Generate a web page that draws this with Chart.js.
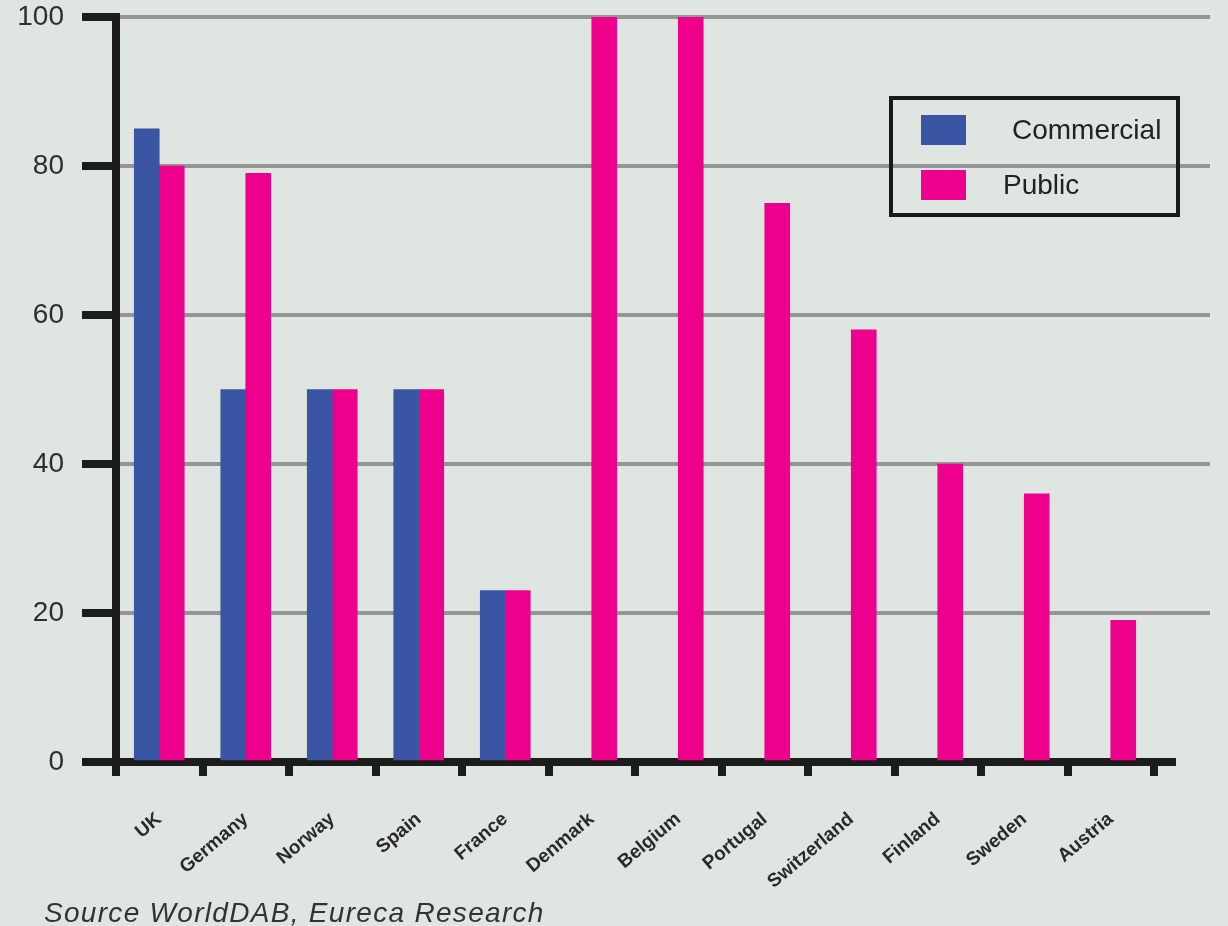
<!DOCTYPE html>
<html>
<head>
<meta charset="utf-8">
<script src="https://cdn.jsdelivr.net/npm/chart.js@4/dist/chart.umd.min.js"></script>
<style>
  html, body { margin: 0; padding: 0; background: #dfe5e1; }
  #wrap { position: relative; width: 1228px; height: 926px; }
  #legend {
    position: absolute; left: 889px; top: 96px; width: 291px; height: 121px;
    box-sizing: border-box; border: 4px solid #1a1a1a;
    font-family: "Liberation Sans", Arial, sans-serif; font-size: 28px; color: #222;
  }
  .item { position: absolute; left: 28px; height: 30px; display: flex; align-items: center; }
  .swatch { width: 45px; height: 30px; flex: none; }
  #source {
    position: absolute; left: 44px; top: 897px;
    font-family: "Liberation Sans", Arial, sans-serif; font-style: italic;
    font-size: 28px; letter-spacing: 1.3px; color: #333;
  }
</style>
</head>
<body>
<div id="wrap">
  <canvas id="dabChart" width="1228" height="926"></canvas>
  <div id="legend"></div>
  <div id="source">Source WorldDAB, Eureca Research</div>
</div>
<script>
// Chart data
const countries = ['UK', 'Germany', 'Norway', 'Spain', 'France', 'Denmark', 'Belgium',
  'Portugal', 'Switzerland', 'Finland', 'Sweden', 'Austria'];
const commercial = [85, 50, 50, 50, 23, null, null, null, null, null, null, null];
const publicStations = [80, 79, 50, 50, 23, 100, 100, 75, 58, 40, 36, 19];
const yTicks = [0, 20, 40, 60, 80, 100];

const font = '"Liberation Sans", Arial, sans-serif';

// grid lines and x axis run on a bit past the last category
const axisRunOn = {
  id: 'axisRunOn',
  beforeDatasetsDraw(chart) {
    const { ctx, chartArea, scales } = chart;
    ctx.save();
    ctx.strokeStyle = '#959595';
    ctx.lineWidth = 4;
    yTicks.slice(1).forEach(v => {
      const y = scales.y.getPixelForValue(v);
      ctx.beginPath();
      ctx.moveTo(chartArea.right, y);
      ctx.lineTo(chartArea.right + 56, y);
      ctx.stroke();
    });
    ctx.strokeStyle = '#1c1c1c';
    ctx.lineWidth = 8;
    ctx.beginPath();
    ctx.moveTo(chartArea.right, chartArea.bottom);
    ctx.lineTo(chartArea.right + 22, chartArea.bottom);
    ctx.stroke();
    ctx.restore();
  }
};

const chart = new Chart(document.getElementById('dabChart'), {
  type: 'bar',
  data: {
    labels: countries,
    datasets: [
      { label: 'Commercial', data: commercial, backgroundColor: '#3a55a4' },
      { label: 'Public', data: publicStations, backgroundColor: '#ec008c' }
    ]
  },
  options: {
    responsive: false,
    animation: false,
    barThickness: 25,
    layout: { padding: { left: 0, top: 17, right: 74, bottom: 0 } },
    plugins: { legend: { display: false }, tooltip: { enabled: false } },
    scales: {
      x: {
        afterFit: (s) => { s.height = 164; },
        grid: { drawOnChartArea: false, color: '#1c1c1c', lineWidth: 8, tickLength: 14 },
        border: { color: '#1c1c1c', width: 8 },
        ticks: {
          minRotation: 40, maxRotation: 40, padding: 32,
          color: '#2a2a2a', font: { family: font, size: 19, weight: 'bold' }
        }
      },
      y: {
        min: 0, max: 100,
        afterFit: (s) => { s.width = 116; s.paddingTop = 0; s.paddingBottom = 0; },
        afterBuildTicks: (s) => { s.ticks = yTicks.map(v => ({ value: v })); },
        grid: { color: '#959595', lineWidth: 4, tickColor: '#1c1c1c', tickWidth: 8, tickLength: 34 },
        border: { color: '#1c1c1c', width: 8 },
        ticks: { padding: 18, color: '#2e2e2e', font: { family: font, size: 28 } }
      }
    }
  },
  plugins: [axisRunOn]
});

// Legend box built from the datasets
const legend = document.getElementById('legend');
const tops = [15, 70];
const textGap = [46, 37];
chart.data.datasets.forEach((ds, i) => {
  const item = document.createElement('div');
  item.className = 'item';
  item.style.top = tops[i] + 'px';
  const sw = document.createElement('div');
  sw.className = 'swatch';
  sw.style.background = ds.backgroundColor;
  sw.style.marginRight = textGap[i] + 'px';
  item.appendChild(sw);
  item.appendChild(document.createTextNode(ds.label));
  legend.appendChild(item);
});
</script>
</body>
</html>
